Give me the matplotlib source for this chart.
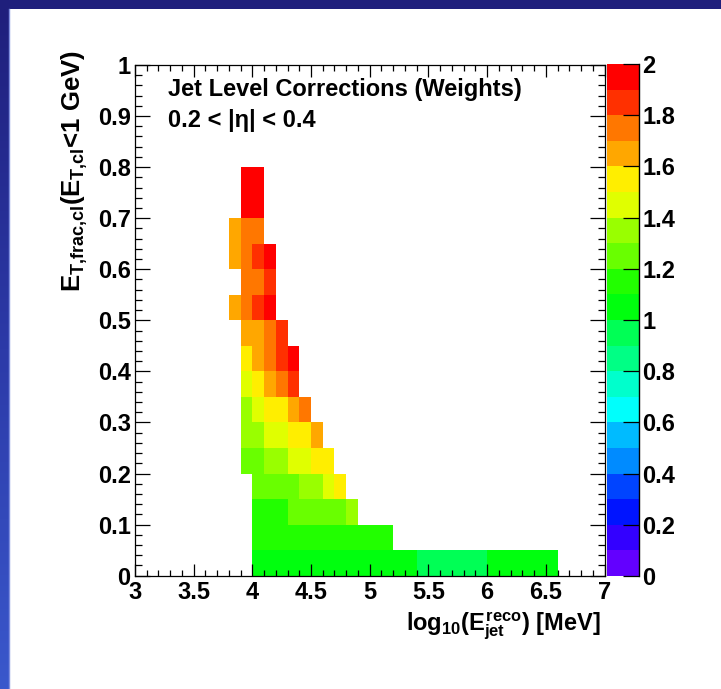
import numpy as np
import matplotlib
matplotlib.use("Agg")
import matplotlib.pyplot as plt
from matplotlib.colors import ListedColormap, BoundaryNorm, LinearSegmentedColormap
from matplotlib.ticker import MultipleLocator, FuncFormatter
from matplotlib.patches import Rectangle
import colorsys

# ---------------- data ----------------
x_range = (3.0, 7.0)
y_range = (0.0, 1.0)
x_bin = 0.1
y_bin = 0.05

# lower edge (y) of each filled row, x of its first filled bin, and the bin values
row_y_low = [0.00, 0.05, 0.10, 0.15, 0.20, 0.25, 0.30, 0.35,
             0.40, 0.45, 0.50, 0.55, 0.60, 0.65, 0.70, 0.75]
row_x_start = [4.0, 4.0, 4.0, 4.0, 3.9, 3.9, 3.9, 3.9,
               3.9, 3.9, 3.8, 3.9, 3.8, 3.8, 3.9, 3.9]
row_values = [
    [1.05, 1.05, 1.05, 1.05, 1.05, 1.05, 1.05, 1.05, 1.05, 1.05, 1.05, 1.05, 1.05, 1.05,
     0.95, 0.95, 0.95, 0.95, 0.95, 0.95,
     1.05, 1.05, 1.05, 1.05, 1.05, 1.05],
    [1.15, 1.15, 1.15, 1.15, 1.15, 1.15, 1.15, 1.15, 1.15, 1.15, 1.15, 1.15],
    [1.15, 1.15, 1.15, 1.25, 1.25, 1.25, 1.25, 1.25, 1.35],
    [1.25, 1.25, 1.25, 1.25, 1.35, 1.35, 1.45, 1.55],
    [1.25, 1.25, 1.35, 1.35, 1.45, 1.45, 1.55, 1.55],
    [1.35, 1.35, 1.45, 1.45, 1.55, 1.55, 1.65],
    [1.35, 1.45, 1.55, 1.55, 1.65, 1.75],
    [1.45, 1.55, 1.65, 1.75, 1.85],
    [1.55, 1.65, 1.75, 1.85, 1.95],
    [1.65, 1.65, 1.75, 1.85],
    [1.65, 1.75, 1.85, 1.95],
    [1.75, 1.75, 1.85],
    [1.65, 1.75, 1.85, 1.95],
    [1.65, 1.75, 1.75],
    [1.95, 1.95],
    [1.95, 1.95],
]
z_levels = [0.0, 0.1, 0.2, 0.3, 0.4, 0.5, 0.6, 0.7, 0.8, 0.9, 1.0,
            1.1, 1.2, 1.3, 1.4, 1.5, 1.6, 1.7, 1.8, 1.9, 2.0]
cbar_ticks = [0.0, 0.2, 0.4, 0.6, 0.8, 1.0, 1.2, 1.4, 1.6, 1.8, 2.0]

title_line1 = "Jet Level Corrections (Weights)"
title_line2 = "0.2 < |η| < 0.4"
x_title = r"$log_{10}(E^{reco}_{jet})$ [MeV]"
y_title = r"$E_{T{,}frac{,}cl}(E_{T{,}cl}$<1 GeV)"

# ---------------- build histogram ----------------
nx = int(round((x_range[1] - x_range[0]) / x_bin))
ny = int(round((y_range[1] - y_range[0]) / y_bin))
x_edges = np.linspace(x_range[0], x_range[1], nx + 1)
y_edges = np.linspace(y_range[0], y_range[1], ny + 1)
Z = np.full((ny, nx), np.nan)
for yl, x0, vals in zip(row_y_low, row_x_start, row_values):
    iy = int(round((yl - y_range[0]) / y_bin))
    ix = int(round((x0 - x_range[0]) / x_bin))
    Z[iy, ix:ix + len(vals)] = vals
Zm = np.ma.masked_invalid(Z)

# ROOT "pretty" palette (50 HLS colours) sampled for 20 contours
ncont = len(z_levels) - 1
cols = []
for i in range(ncont):
    idx = int((i + 0.99) * 50 / ncont)
    hue = 280 - (idx + 1) * (280 / 50)
    cols.append(colorsys.hls_to_rgb(hue / 360.0, 0.5, 1.0))
cmap = ListedColormap(cols)
norm = BoundaryNorm(z_levels, cmap.N)

# ---------------- figure ----------------
plt.rcParams['font.family'] = ['Liberation Sans', 'DejaVu Sans']
plt.rcParams['font.weight'] = 'bold'
plt.rcParams['mathtext.fontset'] = 'custom'
plt.rcParams['mathtext.rm'] = 'Liberation Sans:bold'
plt.rcParams['mathtext.it'] = 'Liberation Sans:bold'
plt.rcParams['mathtext.bf'] = 'Liberation Sans:bold'
plt.rcParams['mathtext.sf'] = 'Liberation Sans:bold'

FS = 17
W, H = 721, 689
fig = plt.figure(figsize=(W / 100, H / 100), dpi=100, facecolor='white')

# blue frame: top band + left gradient strip
fig.patches.append(Rectangle((0, 1 - 9 / H), 1, 9 / H, transform=fig.transFigure,
                             facecolor='#1f1f7c', edgecolor='none', zorder=0))
gax = fig.add_axes([0, 0, 9 / W, 1 - 9 / H])
grad = np.linspace(0, 1, 256).reshape(-1, 1)
gcmap = LinearSegmentedColormap.from_list('g', ['#1f1f7c', '#2c3aa8', '#3a58cc'])
gax.imshow(grad, aspect='auto', cmap=gcmap, origin='upper')
gax.set_axis_off()
fig.add_artist(plt.Line2D([9 / W, 9 / W], [0, 1 - 9 / H], transform=fig.transFigure,
                          color='#7f8fe0', lw=1.0))

ax = fig.add_axes([134.9 / W, (H - 575.7) / H, (604.5 - 134.9) / W, (575.7 - 65) / H])
mesh = ax.pcolormesh(x_edges, y_edges, Zm, cmap=cmap, norm=norm,
                     edgecolors='none', antialiased=False, zorder=1)
ax.set_xlim(*x_range)
ax.set_ylim(*y_range)

fmt = FuncFormatter(lambda v, p: f"{v:g}")
ax.xaxis.set_major_locator(MultipleLocator(0.5))
ax.xaxis.set_minor_locator(MultipleLocator(0.1))
ax.yaxis.set_major_locator(MultipleLocator(0.1))
ax.yaxis.set_minor_locator(MultipleLocator(0.02))
ax.xaxis.set_major_formatter(fmt)
ax.yaxis.set_major_formatter(fmt)
ax.tick_params(which='both', direction='in', top=True, right=True, width=0.9,
               colors='black', labelsize=FS)
ax.tick_params(axis='x', which='major', length=8.6, pad=4)
ax.tick_params(axis='x', which='minor', length=4.3)
ax.tick_params(axis='y', which='major', length=10.5, pad=3)
ax.tick_params(axis='y', which='minor', length=5.2)
for lab in ax.get_xticklabels() + ax.get_yticklabels():
    lab.set_fontweight('bold')
for s in ax.spines.values():
    s.set_linewidth(0.9)
    s.set_color('black')

# colour bar
cax = fig.add_axes([607.3 / W, (H - 576) / H, 31.7 / W, 512 / H])
cb = fig.colorbar(mesh, cax=cax, ticks=cbar_ticks, drawedges=False)
cb.outline.set_visible(False)
cax.yaxis.set_major_formatter(fmt)
cax.tick_params(which='major', direction='in', length=11.5, width=0.9, right=True,
                left=False, labelsize=FS, pad=2.2, colors='black')
cax.minorticks_off()
for lab in cax.get_yticklabels():
    lab.set_fontweight('bold')
cax.plot([1, 1], [0, 1], transform=cax.transAxes, color='black', lw=1.0, clip_on=False)

# texts
fig.text(168 / W, 1 - 96 / H, title_line1, fontsize=FS, fontweight='bold',
         ha='left', va='baseline')
fig.text(168 / W, 1 - 126.7 / H, title_line2, fontsize=FS, fontweight='bold',
         ha='left', va='baseline')
fig.text(601 / W, 1 - 611 / H, x_title, fontsize=FS, fontweight='bold',
         ha='right', va='top')
fig.text(75 / W, 1 - 50 / H, y_title, fontsize=18.5, fontweight='bold',
         ha='center', va='top', rotation=90)

fig.savefig('out.png', dpi=100, facecolor='white')
